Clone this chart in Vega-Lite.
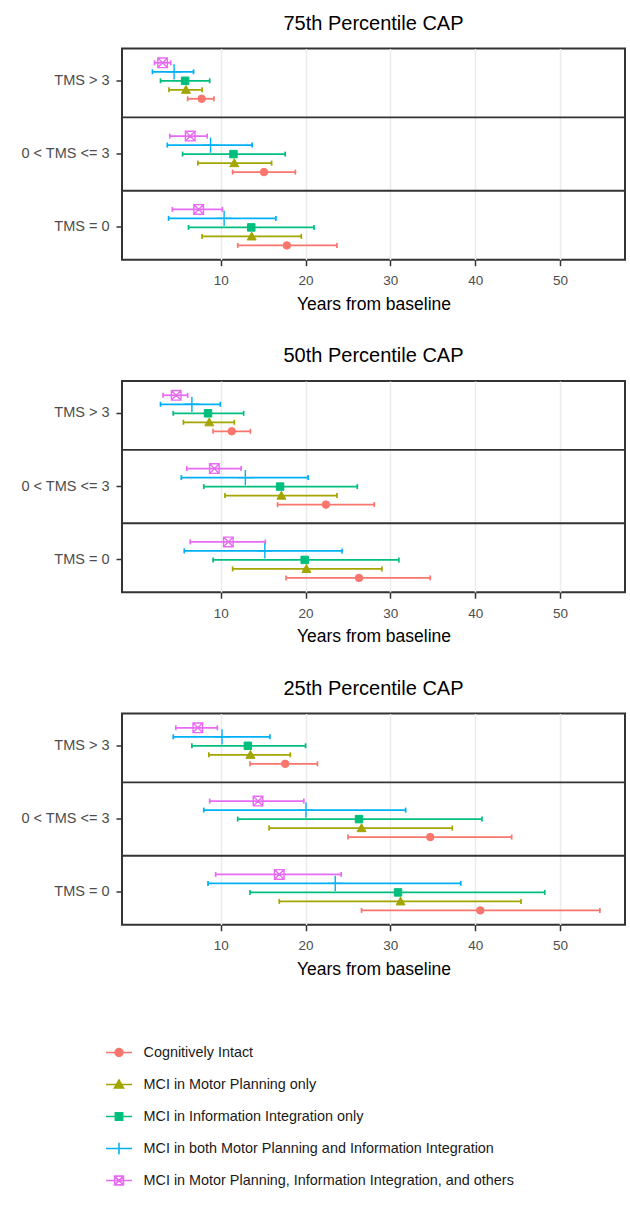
{
  "$schema": "https://vega.github.io/schema/vega-lite/v6.json",
  "padding": {"left": 19, "top": 12.5, "right": 5, "bottom": 5},
  "bounds": "flush",
  "spacing": 120.5,
  "datasets": {
    "sep": [{"tms": "TMS > 3"}, {"tms": "0 < TMS <= 3"}],
    "cap": [
      {"p": 75, "tms": "TMS > 3", "group": "Cognitively Intact", "est": 7.75, "lo": 6.1, "hi": 9.2},
      {"p": 75, "tms": "TMS > 3", "group": "MCI in Motor Planning only", "est": 5.9, "lo": 3.9, "hi": 7.8},
      {"p": 75, "tms": "TMS > 3", "group": "MCI in Information Integration only", "est": 5.8, "lo": 2.9, "hi": 8.7},
      {"p": 75, "tms": "TMS > 3", "group": "MCI in both Motor Planning and Information Integration", "est": 4.5, "lo": 1.95, "hi": 6.8},
      {"p": 75, "tms": "TMS > 3", "group": "MCI in Motor Planning, Information Integration, and others", "est": 3.15, "lo": 2.2, "hi": 4.1},
      {"p": 75, "tms": "0 < TMS <= 3", "group": "Cognitively Intact", "est": 15.1, "lo": 11.4, "hi": 18.8},
      {"p": 75, "tms": "0 < TMS <= 3", "group": "MCI in Motor Planning only", "est": 11.6, "lo": 7.3, "hi": 16.0},
      {"p": 75, "tms": "0 < TMS <= 3", "group": "MCI in Information Integration only", "est": 11.5, "lo": 5.5, "hi": 17.6},
      {"p": 75, "tms": "0 < TMS <= 3", "group": "MCI in both Motor Planning and Information Integration", "est": 8.8, "lo": 3.7, "hi": 13.7},
      {"p": 75, "tms": "0 < TMS <= 3", "group": "MCI in Motor Planning, Information Integration, and others", "est": 6.4, "lo": 4.0, "hi": 8.4},
      {"p": 75, "tms": "TMS = 0", "group": "Cognitively Intact", "est": 17.8, "lo": 12.0, "hi": 23.7},
      {"p": 75, "tms": "TMS = 0", "group": "MCI in Motor Planning only", "est": 13.65, "lo": 7.8, "hi": 19.5},
      {"p": 75, "tms": "TMS = 0", "group": "MCI in Information Integration only", "est": 13.6, "lo": 6.2, "hi": 21.0},
      {"p": 75, "tms": "TMS = 0", "group": "MCI in both Motor Planning and Information Integration", "est": 10.4, "lo": 3.85, "hi": 16.5},
      {"p": 75, "tms": "TMS = 0", "group": "MCI in Motor Planning, Information Integration, and others", "est": 7.4, "lo": 4.3, "hi": 10.2},
      {"p": 50, "tms": "TMS > 3", "group": "Cognitively Intact", "est": 11.3, "lo": 9.1, "hi": 13.5},
      {"p": 50, "tms": "TMS > 3", "group": "MCI in Motor Planning only", "est": 8.65, "lo": 5.6, "hi": 11.6},
      {"p": 50, "tms": "TMS > 3", "group": "MCI in Information Integration only", "est": 8.5, "lo": 4.4, "hi": 12.7},
      {"p": 50, "tms": "TMS > 3", "group": "MCI in both Motor Planning and Information Integration", "est": 6.6, "lo": 2.9, "hi": 9.95},
      {"p": 50, "tms": "TMS > 3", "group": "MCI in Motor Planning, Information Integration, and others", "est": 4.75, "lo": 3.2, "hi": 6.1},
      {"p": 50, "tms": "0 < TMS <= 3", "group": "Cognitively Intact", "est": 22.4, "lo": 16.7, "hi": 28.1},
      {"p": 50, "tms": "0 < TMS <= 3", "group": "MCI in Motor Planning only", "est": 17.15, "lo": 10.5, "hi": 23.7},
      {"p": 50, "tms": "0 < TMS <= 3", "group": "MCI in Information Integration only", "est": 17.0, "lo": 8.0, "hi": 26.1},
      {"p": 50, "tms": "0 < TMS <= 3", "group": "MCI in both Motor Planning and Information Integration", "est": 12.9, "lo": 5.35, "hi": 20.3},
      {"p": 50, "tms": "0 < TMS <= 3", "group": "MCI in Motor Planning, Information Integration, and others", "est": 9.25, "lo": 6.0, "hi": 12.4},
      {"p": 50, "tms": "TMS = 0", "group": "Cognitively Intact", "est": 26.3, "lo": 17.7, "hi": 34.7},
      {"p": 50, "tms": "TMS = 0", "group": "MCI in Motor Planning only", "est": 20.1, "lo": 11.4, "hi": 29.0},
      {"p": 50, "tms": "TMS = 0", "group": "MCI in Information Integration only", "est": 19.9, "lo": 9.1, "hi": 31.0},
      {"p": 50, "tms": "TMS = 0", "group": "MCI in both Motor Planning and Information Integration", "est": 15.2, "lo": 5.7, "hi": 24.3},
      {"p": 50, "tms": "TMS = 0", "group": "MCI in Motor Planning, Information Integration, and others", "est": 10.9, "lo": 6.4, "hi": 15.25},
      {"p": 25, "tms": "TMS > 3", "group": "Cognitively Intact", "est": 17.6, "lo": 13.45, "hi": 21.4},
      {"p": 25, "tms": "TMS > 3", "group": "MCI in Motor Planning only", "est": 13.5, "lo": 8.6, "hi": 18.2},
      {"p": 25, "tms": "TMS > 3", "group": "MCI in Information Integration only", "est": 13.2, "lo": 6.6, "hi": 20.0},
      {"p": 25, "tms": "TMS > 3", "group": "MCI in both Motor Planning and Information Integration", "est": 10.15, "lo": 4.4, "hi": 15.8},
      {"p": 25, "tms": "TMS > 3", "group": "MCI in Motor Planning, Information Integration, and others", "est": 7.3, "lo": 4.7, "hi": 9.6},
      {"p": 25, "tms": "0 < TMS <= 3", "group": "Cognitively Intact", "est": 34.7, "lo": 25.0, "hi": 44.3},
      {"p": 25, "tms": "0 < TMS <= 3", "group": "MCI in Motor Planning only", "est": 26.6, "lo": 15.7, "hi": 37.3},
      {"p": 25, "tms": "0 < TMS <= 3", "group": "MCI in Information Integration only", "est": 26.3, "lo": 12.0, "hi": 40.8},
      {"p": 25, "tms": "0 < TMS <= 3", "group": "MCI in both Motor Planning and Information Integration", "est": 20.05, "lo": 8.0, "hi": 31.8},
      {"p": 25, "tms": "0 < TMS <= 3", "group": "MCI in Motor Planning, Information Integration, and others", "est": 14.4, "lo": 8.7, "hi": 19.8},
      {"p": 25, "tms": "TMS = 0", "group": "Cognitively Intact", "est": 40.6, "lo": 26.6, "hi": 54.7},
      {"p": 25, "tms": "TMS = 0", "group": "MCI in Motor Planning only", "est": 31.2, "lo": 16.9, "hi": 45.4},
      {"p": 25, "tms": "TMS = 0", "group": "MCI in Information Integration only", "est": 30.9, "lo": 13.45, "hi": 48.2},
      {"p": 25, "tms": "TMS = 0", "group": "MCI in both Motor Planning and Information Integration", "est": 23.5, "lo": 8.5, "hi": 38.3},
      {"p": 25, "tms": "TMS = 0", "group": "MCI in Motor Planning, Information Integration, and others", "est": 16.9, "lo": 9.4, "hi": 24.2}
    ]
  },
  "vconcat": [
    {
      "title": {"text": "75th Percentile CAP"},
      "width": 503, "height": 211.2,
      "layer": [
        {"data": {"name": "sep"}, "mark": {"type": "rule", "color": "#333333", "strokeWidth": 1.8},
         "encoding": {"y": {"field": "tms", "type": "nominal", "bandPosition": 1.3143, "title": null,
           "scale": {"type": "band", "domain": ["TMS > 3", "0 < TMS <= 3", "TMS = 0"], "paddingInner": 0.386, "paddingOuter": 0.1336}}}},
        {"data": {"name": "cap"}, "transform": [{"filter": "datum.p == 75"}],
         "encoding": {
           "y": {"field": "tms", "type": "nominal", "title": null,
             "scale": {"type": "band", "domain": ["TMS > 3", "0 < TMS <= 3", "TMS = 0"], "paddingInner": 0.386, "paddingOuter": 0.1336}},
           "yOffset": {"field": "group", "type": "nominal", "scale": {"domain": ["MCI in Motor Planning, Information Integration, and others", "MCI in both Motor Planning and Information Integration", "MCI in Information Integration only", "MCI in Motor Planning only", "Cognitively Intact"], "paddingInner": 0, "paddingOuter": 0}},
           "color": {"field": "group", "type": "nominal",
             "scale": {"domain": ["Cognitively Intact", "MCI in Motor Planning only", "MCI in Information Integration only", "MCI in both Motor Planning and Information Integration", "MCI in Motor Planning, Information Integration, and others"], "range": ["#F8766D", "#A3A500", "#00BF7D", "#00B0F6", "#E76BF3"]},
             "legend": {"title": null, "orient": "none", "legendX": -17, "legendY": 988, "direction": "vertical", "padding": 0,
               "symbolType": "M-1,0H1", "symbolSize": 676, "symbolStrokeWidth": 1.6, "labelFontSize": 14.4, "labelColor": "#1a1a1a", "labelOffset": 10.5, "rowPadding": 0, "clipHeight": 32, "labelLimit": 0,
               "encode": {"symbols": {"update": {
                 "shape": {"signal": "['M-1,0H1M0.3,0A0.3,0.3,0,1,1,-0.3,0A0.3,0.3,0,1,1,0.3,0Z','M-1,0H1M0,-0.34L0.35,0.26L-0.35,0.26Z','M-1,0H1M-0.28,-0.28H0.28V0.28H-0.28Z','M-1,0H1M0,-0.45V0.45','M-1,0H1M-0.34,-0.34H0.34V0.34H-0.34ZM-0.34,-0.34L0.34,0.34M0.34,-0.34L-0.34,0.34'][datum.index]"},
                 "fill": {"signal": "datum.index >= 3 ? 'transparent' : scale('color', datum.value)"},
                 "strokeWidth": {"value": 1.6}
               }}}}
           },
           "x": {"field": "est", "type": "quantitative", "title": "Years from baseline", "scale": {"domain": [-1.64, 57.66], "nice": false, "zero": false}, "axis": {"values": [10, 20, 30, 40, 50]}}
         },
         "layer": [
           {"mark": {"type": "rule", "strokeWidth": 1.8}, "encoding": {"x": {"field": "lo", "type": "quantitative"}, "x2": {"field": "hi"}}},
           {"mark": {"type": "point", "shape": "M0,-1V1", "size": 25, "strokeWidth": 1.7, "filled": false, "opacity": 1}, "encoding": {"x": {"field": "lo", "type": "quantitative"}}},
           {"mark": {"type": "point", "shape": "M0,-1V1", "size": 25, "strokeWidth": 1.7, "filled": false, "opacity": 1}, "encoding": {"x": {"field": "hi", "type": "quantitative"}}},
           {"transform": [{"filter": "datum.group == 'Cognitively Intact'"}], "mark": {"type": "point", "shape": "circle", "size": 56, "strokeWidth": 1, "filled": false, "fill": "#F8766D", "opacity": 1}},
           {"transform": [{"filter": "datum.group == 'MCI in Motor Planning only'"}], "mark": {"type": "point", "shape": "M0,-1.15L1.2,0.95L-1.2,0.95Z", "size": 56, "strokeWidth": 1, "filled": false, "fill": "#A3A500", "opacity": 1}},
           {"transform": [{"filter": "datum.group == 'MCI in Information Integration only'"}], "mark": {"type": "point", "shape": "square", "size": 56, "strokeWidth": 1, "filled": false, "fill": "#00BF7D", "opacity": 1}},
           {"transform": [{"filter": "datum.group == 'MCI in both Motor Planning and Information Integration'"}], "mark": {"type": "point", "shape": "M0,-1.9V1.9M-1.9,0H1.9", "size": 64, "strokeWidth": 1.4, "filled": false, "opacity": 1}},
           {"transform": [{"filter": "datum.group == 'MCI in Motor Planning, Information Integration, and others'"}], "mark": {"type": "point", "shape": "M-1.2,-1.2H1.2V1.2H-1.2ZM-1.2,-1.2L1.2,1.2M1.2,-1.2L-1.2,1.2", "size": 64, "strokeWidth": 1.4, "filled": false, "opacity": 1}}
         ]}
      ]
    },
    {
      "title": {"text": "50th Percentile CAP"},
      "width": 503, "height": 211.2,
      "layer": [
        {"data": {"name": "sep"}, "mark": {"type": "rule", "color": "#333333", "strokeWidth": 1.8},
         "encoding": {"y": {"field": "tms", "type": "nominal", "bandPosition": 1.3143, "title": null,
           "scale": {"type": "band", "domain": ["TMS > 3", "0 < TMS <= 3", "TMS = 0"], "paddingInner": 0.386, "paddingOuter": 0.1336}}}},
        {"data": {"name": "cap"}, "transform": [{"filter": "datum.p == 50"}],
         "encoding": {
           "y": {"field": "tms", "type": "nominal", "title": null,
             "scale": {"type": "band", "domain": ["TMS > 3", "0 < TMS <= 3", "TMS = 0"], "paddingInner": 0.386, "paddingOuter": 0.1336}},
           "yOffset": {"field": "group", "type": "nominal", "scale": {"domain": ["MCI in Motor Planning, Information Integration, and others", "MCI in both Motor Planning and Information Integration", "MCI in Information Integration only", "MCI in Motor Planning only", "Cognitively Intact"], "paddingInner": 0, "paddingOuter": 0}},
           "color": {"field": "group", "type": "nominal"},
           "x": {"field": "est", "type": "quantitative", "title": "Years from baseline", "scale": {"domain": [-1.64, 57.66], "nice": false, "zero": false}, "axis": {"values": [10, 20, 30, 40, 50]}}
         },
         "layer": [
           {"mark": {"type": "rule", "strokeWidth": 1.8}, "encoding": {"x": {"field": "lo", "type": "quantitative"}, "x2": {"field": "hi"}}},
           {"mark": {"type": "point", "shape": "M0,-1V1", "size": 25, "strokeWidth": 1.7, "filled": false, "opacity": 1}, "encoding": {"x": {"field": "lo", "type": "quantitative"}}},
           {"mark": {"type": "point", "shape": "M0,-1V1", "size": 25, "strokeWidth": 1.7, "filled": false, "opacity": 1}, "encoding": {"x": {"field": "hi", "type": "quantitative"}}},
           {"transform": [{"filter": "datum.group == 'Cognitively Intact'"}], "mark": {"type": "point", "shape": "circle", "size": 56, "strokeWidth": 1, "filled": false, "fill": "#F8766D", "opacity": 1}},
           {"transform": [{"filter": "datum.group == 'MCI in Motor Planning only'"}], "mark": {"type": "point", "shape": "M0,-1.15L1.2,0.95L-1.2,0.95Z", "size": 56, "strokeWidth": 1, "filled": false, "fill": "#A3A500", "opacity": 1}},
           {"transform": [{"filter": "datum.group == 'MCI in Information Integration only'"}], "mark": {"type": "point", "shape": "square", "size": 56, "strokeWidth": 1, "filled": false, "fill": "#00BF7D", "opacity": 1}},
           {"transform": [{"filter": "datum.group == 'MCI in both Motor Planning and Information Integration'"}], "mark": {"type": "point", "shape": "M0,-1.9V1.9M-1.9,0H1.9", "size": 64, "strokeWidth": 1.4, "filled": false, "opacity": 1}},
           {"transform": [{"filter": "datum.group == 'MCI in Motor Planning, Information Integration, and others'"}], "mark": {"type": "point", "shape": "M-1.2,-1.2H1.2V1.2H-1.2ZM-1.2,-1.2L1.2,1.2M1.2,-1.2L-1.2,1.2", "size": 64, "strokeWidth": 1.4, "filled": false, "opacity": 1}}
         ]}
      ]
    },
    {
      "title": {"text": "25th Percentile CAP"},
      "width": 503, "height": 211.2,
      "layer": [
        {"data": {"name": "sep"}, "mark": {"type": "rule", "color": "#333333", "strokeWidth": 1.8},
         "encoding": {"y": {"field": "tms", "type": "nominal", "bandPosition": 1.3143, "title": null,
           "scale": {"type": "band", "domain": ["TMS > 3", "0 < TMS <= 3", "TMS = 0"], "paddingInner": 0.386, "paddingOuter": 0.1336}}}},
        {"data": {"name": "cap"}, "transform": [{"filter": "datum.p == 25"}],
         "encoding": {
           "y": {"field": "tms", "type": "nominal", "title": null,
             "scale": {"type": "band", "domain": ["TMS > 3", "0 < TMS <= 3", "TMS = 0"], "paddingInner": 0.386, "paddingOuter": 0.1336}},
           "yOffset": {"field": "group", "type": "nominal", "scale": {"domain": ["MCI in Motor Planning, Information Integration, and others", "MCI in both Motor Planning and Information Integration", "MCI in Information Integration only", "MCI in Motor Planning only", "Cognitively Intact"], "paddingInner": 0, "paddingOuter": 0}},
           "color": {"field": "group", "type": "nominal"},
           "x": {"field": "est", "type": "quantitative", "title": "Years from baseline", "scale": {"domain": [-1.64, 57.66], "nice": false, "zero": false}, "axis": {"values": [10, 20, 30, 40, 50]}}
         },
         "layer": [
           {"mark": {"type": "rule", "strokeWidth": 1.8}, "encoding": {"x": {"field": "lo", "type": "quantitative"}, "x2": {"field": "hi"}}},
           {"mark": {"type": "point", "shape": "M0,-1V1", "size": 25, "strokeWidth": 1.7, "filled": false, "opacity": 1}, "encoding": {"x": {"field": "lo", "type": "quantitative"}}},
           {"mark": {"type": "point", "shape": "M0,-1V1", "size": 25, "strokeWidth": 1.7, "filled": false, "opacity": 1}, "encoding": {"x": {"field": "hi", "type": "quantitative"}}},
           {"transform": [{"filter": "datum.group == 'Cognitively Intact'"}], "mark": {"type": "point", "shape": "circle", "size": 56, "strokeWidth": 1, "filled": false, "fill": "#F8766D", "opacity": 1}},
           {"transform": [{"filter": "datum.group == 'MCI in Motor Planning only'"}], "mark": {"type": "point", "shape": "M0,-1.15L1.2,0.95L-1.2,0.95Z", "size": 56, "strokeWidth": 1, "filled": false, "fill": "#A3A500", "opacity": 1}},
           {"transform": [{"filter": "datum.group == 'MCI in Information Integration only'"}], "mark": {"type": "point", "shape": "square", "size": 56, "strokeWidth": 1, "filled": false, "fill": "#00BF7D", "opacity": 1}},
           {"transform": [{"filter": "datum.group == 'MCI in both Motor Planning and Information Integration'"}], "mark": {"type": "point", "shape": "M0,-1.9V1.9M-1.9,0H1.9", "size": 64, "strokeWidth": 1.4, "filled": false, "opacity": 1}},
           {"transform": [{"filter": "datum.group == 'MCI in Motor Planning, Information Integration, and others'"}], "mark": {"type": "point", "shape": "M-1.2,-1.2H1.2V1.2H-1.2ZM-1.2,-1.2L1.2,1.2M1.2,-1.2L-1.2,1.2", "size": 64, "strokeWidth": 1.4, "filled": false, "opacity": 1}}
         ]}
      ]
    }
  ],
  "config": {
    "font": "Liberation Sans",
    "view": {"stroke": "#333333", "strokeWidth": 2},
    "title": {"fontSize": 20, "fontWeight": "normal", "color": "#000000", "baseline": "alphabetic", "offset": 15, "anchor": "middle"},
    "axisX": {"grid": true, "gridColor": "#EBEBEB", "gridWidth": 1.5, "domain": false, "tickColor": "#333333", "tickWidth": 1.5, "tickSize": 6, "labelPadding": 8, "labelFontSize": 13.5, "labelColor": "#4D4D4D", "titleFontSize": 17.5, "titleFontWeight": "normal", "titleColor": "#000000", "titlePadding": 8},
    "axisY": {"grid": false, "domain": false, "tickColor": "#333333", "tickWidth": 1.5, "tickSize": 6, "labelPadding": 7, "labelFontSize": 14.5, "labelColor": "#4D4D4D"}
  }
}
